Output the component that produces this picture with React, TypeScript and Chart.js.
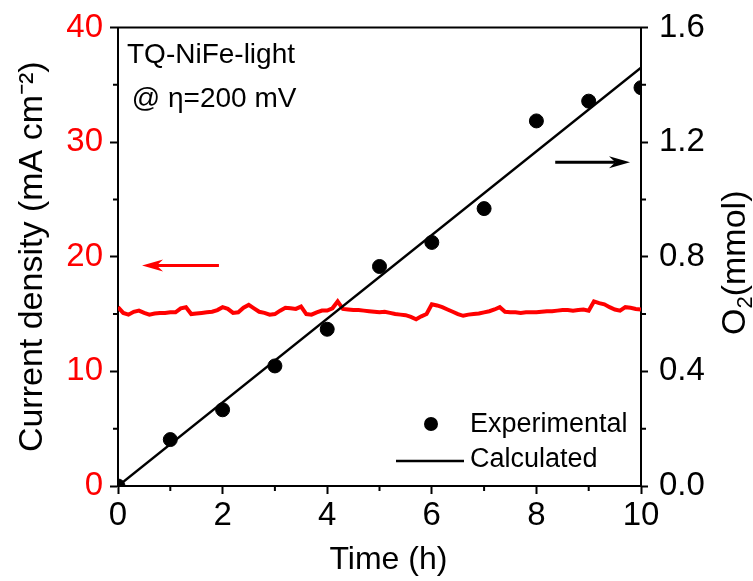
import React, { useEffect, useRef } from "react";
import { Chart, registerables } from "chart.js";

Chart.register(...registerables);

const FONT = '"Liberation Sans", Arial, Helvetica, sans-serif';

// ---- data ----
const expTime = [0, 1, 2, 3, 4, 5, 6, 7, 8, 9, 10];
const expO2 = [0, 0.162, 0.266, 0.419, 0.547, 0.766, 0.85, 0.968, 1.274, 1.343, 1.39];

const calcTime = [0, 10];
const calcO2 = [0, 1.46];

const currentTime = Array.from({ length: 101 }, (_, i) => i / 10);
const currentDensity = [
  15.6, 15.1, 14.95, 15.2, 15.3, 15.1, 14.95, 15.05, 15.1, 15.1,
  15.15, 15.15, 15.5, 15.6, 15.0, 15.05, 15.1, 15.15, 15.2, 15.35,
  15.6, 15.45, 15.1, 15.15, 15.55, 15.8, 15.5, 15.2, 15.1, 14.95,
  15.0, 15.3, 15.55, 15.5, 15.45, 15.65, 15.0, 14.95, 15.15, 15.3,
  15.3, 15.5, 16.1, 15.45, 15.4, 15.35, 15.35, 15.3, 15.25, 15.2,
  15.15, 15.2, 15.1, 15.0, 14.95, 14.9, 14.75, 14.55, 14.8, 15.0,
  15.85, 15.75, 15.6, 15.4, 15.2, 15.0, 14.85, 14.95, 15.0, 15.05,
  15.15, 15.25, 15.4, 15.6, 15.2, 15.15, 15.15, 15.1, 15.15, 15.15,
  15.15, 15.2, 15.25, 15.25, 15.3, 15.35, 15.35, 15.3, 15.35, 15.4,
  15.3, 16.1, 15.95, 15.85, 15.6, 15.4, 15.3, 15.6, 15.55, 15.45,
  15.4,
];

// ---- axes ----
const xRange = [0, 10];
const xStep = 2;
const xMinor = [1, 3, 5, 7, 9];
const yRange = [0, 40];
const yStep = 10;
const yMinor = [5, 15, 25, 35];
const y2Range = [0, 1.6];
const y2Step = 0.4;
const y2Minor = [0.2, 0.6, 1.0, 1.4];

// arrows: [tail, head, level]
const leftArrow = [1.93, 0.46, 19.24]; // on current-density axis
const rightArrow = [8.36, 9.79, 1.13]; // on O2 axis

const annotationLines = ["TQ-NiFe-light", " @ η=200 mV"];
const legendLabels = ["Experimental", "Calculated"];

function drawArrow(ctx: CanvasRenderingContext2D, x1: number, x2: number, y: number, color: string) {
  const dir = Math.sign(x2 - x1);
  const headLen = 21;
  const halfW = 6;
  ctx.strokeStyle = color;
  ctx.fillStyle = color;
  ctx.lineWidth = 3;
  ctx.beginPath();
  ctx.moveTo(x1, y);
  ctx.lineTo(x2 - dir * headLen * 0.7, y);
  ctx.stroke();
  ctx.beginPath();
  ctx.moveTo(x2, y);
  ctx.lineTo(x2 - dir * headLen, y - halfW);
  ctx.lineTo(x2 - dir * headLen * 0.7, y);
  ctx.lineTo(x2 - dir * headLen, y + halfW);
  ctx.closePath();
  ctx.fill();
}

const decorPlugin = {
  id: "decor",
  afterDraw(chart: any) {
    const { ctx, chartArea: a, scales } = chart;
    const xs = scales.x, ys = scales.y, y2s = scales.y2;
    ctx.save();
    // top frame line
    ctx.strokeStyle = "#000";
    ctx.lineWidth = 2;
    ctx.beginPath();
    ctx.moveTo(a.left - 1, a.top);
    ctx.lineTo(a.right + 1, a.top);
    ctx.stroke();
    // minor ticks
    const minorLen = 5;
    ctx.beginPath();
    xMinor.forEach((v) => {
      const p = xs.getPixelForValue(v);
      ctx.moveTo(p, a.bottom);
      ctx.lineTo(p, a.bottom + minorLen);
    });
    yMinor.forEach((v) => {
      const p = ys.getPixelForValue(v);
      ctx.moveTo(a.left, p);
      ctx.lineTo(a.left - minorLen, p);
    });
    y2Minor.forEach((v) => {
      const p = y2s.getPixelForValue(v);
      ctx.moveTo(a.right, p);
      ctx.lineTo(a.right + minorLen, p);
    });
    ctx.stroke();

    // arrows
    drawArrow(
      ctx,
      xs.getPixelForValue(leftArrow[0]),
      xs.getPixelForValue(leftArrow[1]),
      ys.getPixelForValue(leftArrow[2]),
      "#ff0000"
    );
    drawArrow(
      ctx,
      xs.getPixelForValue(rightArrow[0]),
      xs.getPixelForValue(rightArrow[1]),
      y2s.getPixelForValue(rightArrow[2]),
      "#000"
    );

    // annotation text
    ctx.fillStyle = "#000";
    ctx.font = `28px ${FONT}`;
    ctx.textAlign = "left";
    ctx.textBaseline = "alphabetic";
    ctx.fillText(annotationLines[0], a.left + 9, a.top + 35);
    ctx.fillText(annotationLines[1], a.left + 6, a.top + 79);

    // legend
    ctx.font = `27px ${FONT}`;
    ctx.textBaseline = "middle";
    ctx.beginPath();
    ctx.arc(a.right - 210, a.bottom - 62, 7, 0, Math.PI * 2);
    ctx.fill();
    ctx.fillText(legendLabels[0], a.right - 171, a.bottom - 61);
    ctx.lineWidth = 2.5;
    ctx.beginPath();
    ctx.moveTo(a.right - 245, a.bottom - 25);
    ctx.lineTo(a.right - 177, a.bottom - 25);
    ctx.stroke();
    ctx.fillText(legendLabels[1], a.right - 171, a.bottom - 26);

    // right axis title (reads bottom to top), with real subscript
    ctx.save();
    ctx.translate(y2s.right - 20, (a.top + a.bottom) / 2 + 6);
    ctx.rotate(-Math.PI / 2);
    ctx.textAlign = "left";
    ctx.textBaseline = "alphabetic";
    const big = `34px ${FONT}`;
    const small = `22px ${FONT}`;
    ctx.font = big;
    const w1 = ctx.measureText("O").width;
    const w3 = ctx.measureText("(mmol)").width;
    ctx.font = small;
    const w2 = ctx.measureText("2").width;
    const start = -(w1 + w2 + w3) / 2;
    const base = 12;
    ctx.font = big;
    ctx.fillText("O", start, base);
    ctx.font = small;
    ctx.fillText("2", start + w1, base + 7);
    ctx.font = big;
    ctx.fillText("(mmol)", start + w1 + w2, base);
    ctx.restore();

    ctx.restore();
  },
};

export default function App() {
  const ref = useRef<HTMLCanvasElement | null>(null);

  useEffect(() => {
    if (!ref.current) return;
    const tickFont = { family: FONT, size: 33, lineHeight: 1 };
    const gridCommon = {
      drawOnChartArea: false,
      drawTicks: true,
      tickLength: 8,
      tickWidth: 2,
      tickColor: "#000",
    };
    const chart = new Chart(ref.current, {
      type: "scatter",
      data: {
        datasets: [
          {
            type: "line",
            label: "Current density",
            data: currentTime.map((t, i) => ({ x: t, y: currentDensity[i] })),
            yAxisID: "y",
            borderColor: "#ff0000",
            borderWidth: 4,
            pointRadius: 0,
            tension: 0,
            order: 3,
          },
          {
            type: "line",
            label: legendLabels[1],
            data: calcTime.map((t, i) => ({ x: t, y: calcO2[i] })),
            yAxisID: "y2",
            borderColor: "#000",
            borderWidth: 2.5,
            pointRadius: 0,
            order: 2,
          },
          {
            type: "scatter",
            label: legendLabels[0],
            data: expTime.map((t, i) => ({ x: t, y: expO2[i] })),
            yAxisID: "y2",
            backgroundColor: "#000",
            borderColor: "#000",
            pointRadius: 7,
            pointHoverRadius: 7,
            order: 1,
          },
        ],
      } as any,
      options: {
        responsive: false,
        animation: false,
        events: [],
        layout: { padding: { top: 23, left: 0, right: 0, bottom: 0 } },
        plugins: {
          legend: { display: false },
          tooltip: { enabled: false },
        },
        scales: {
          x: {
            type: "linear",
            position: "bottom",
            min: xRange[0],
            max: xRange[1],
            ticks: { stepSize: xStep, color: "#000", font: tickFont, padding: 5, maxRotation: 0, autoSkip: false },
            grid: gridCommon,
            border: { display: true, color: "#000", width: 2 },
            title: {
              display: true,
              text: "  Time (h)",
              color: "#000",
              font: { family: FONT, size: 32, lineHeight: 1 },
              padding: { top: 0, bottom: 5 },
            },
            afterFit: (s: any) => {
              s.height = 95;
            },
          },
          y: {
            type: "linear",
            position: "left",
            min: yRange[0],
            max: yRange[1],
            ticks: { stepSize: yStep, color: "#ff0000", font: tickFont, padding: 7 },
            grid: gridCommon,
            border: { display: true, color: "#000", width: 2 },
            title: {
              display: true,
              text: "Current density (mA cm⁻²)",
              color: "#000",
              font: { family: FONT, size: 34, lineHeight: 1 },
              padding: { top: 16, bottom: 0 },
            },
            afterFit: (s: any) => {
              s.width = 118;
            },
          },
          y2: {
            type: "linear",
            position: "right",
            min: y2Range[0],
            max: y2Range[1],
            ticks: {
              stepSize: y2Step,
              color: "#000",
              font: tickFont,
              padding: 11,
              callback: (v: any) => Number(v).toFixed(1),
            },
            grid: { ...gridCommon, tickLength: 7 },
            border: { display: true, color: "#000", width: 2 },
            afterFit: (s: any) => {
              s.width = 112;
            },
          },
        },
      } as any,
      plugins: [decorPlugin],
    });
    return () => chart.destroy();
  }, []);

  return (
    <div style={{ position: "fixed", left: 0, top: 0, width: 753, height: 581, background: "#fff" }}>
      <canvas ref={ref} width={753} height={581} style={{ display: "block" }} />
    </div>
  );
}
